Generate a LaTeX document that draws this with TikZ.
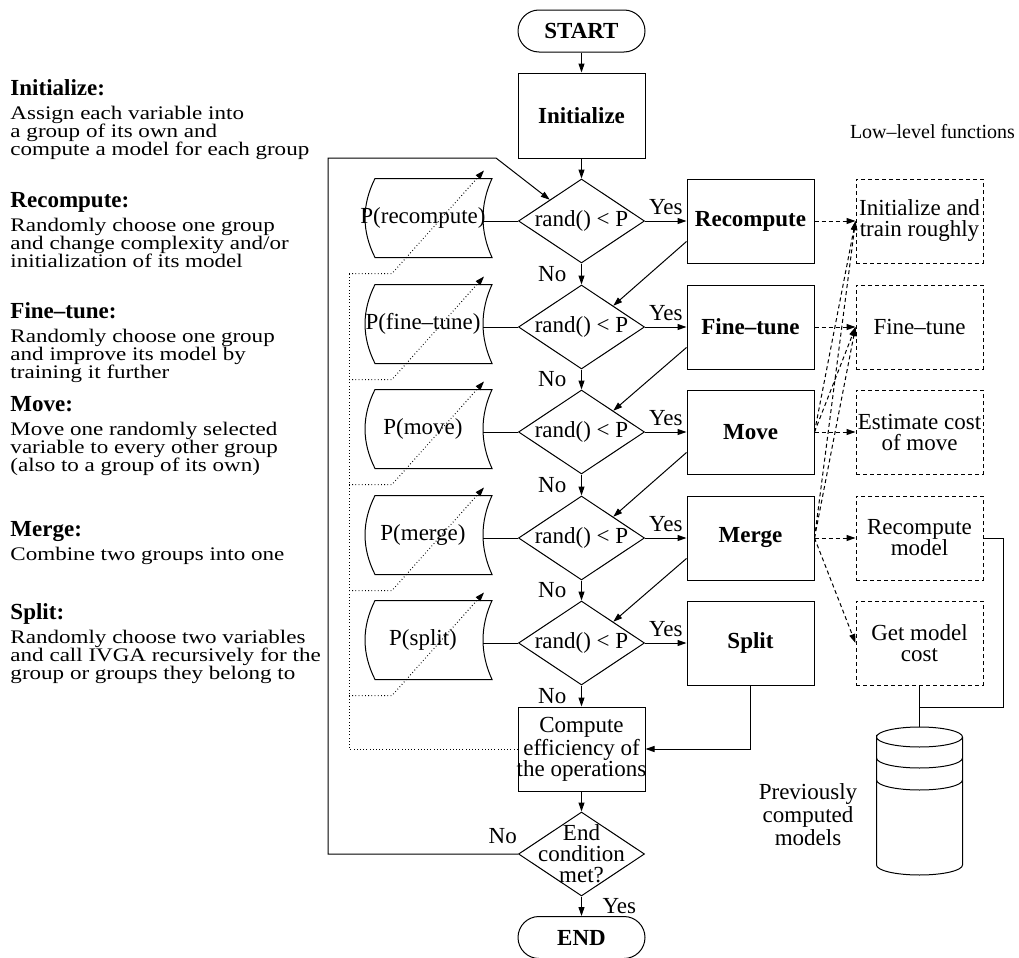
\documentclass[tikz,border=0pt]{standalone}
\usepackage{fontspec}
\setmainfont{Liberation Serif}
\newfontfamily\notefont[FakeStretch=1.2]{Liberation Serif}
\newcommand{\notehead}[1]{{\rmfamily\bfseries\fontsize{11.5pt}{9pt}\selectfont #1}}
\usetikzlibrary{shapes.geometric,shapes.misc,arrows.meta,positioning}

\begin{document}
\begin{tikzpicture}[
    x=0.5pt, y=-0.5pt,
    line width=0.5pt,
    >={Triangle[length=4.5pt,width=3pt]},
    every node/.style={font=\fontsize{11.5pt}{10.5pt}\selectfont},
    terminal/.style={rounded rectangle, draw, inner sep=0pt, minimum width=63.5pt, minimum height=21pt, font=\fontsize{11.5pt}{10.5pt}\selectfont\bfseries},
    box/.style={rectangle, draw, inner sep=0pt, minimum width=63.5pt, minimum height=42pt, align=center},
    op/.style={box, font=\fontsize{11.5pt}{10.5pt}\selectfont\bfseries},
    test/.style={diamond, draw, aspect=1.5, inner sep=0pt, minimum width=63pt, minimum height=42pt},
    lowlevel/.style={box, dash pattern=on 2pt off 1.5pt},
    prob/.style={inner sep=0pt},
    note/.style={anchor=north west, inner sep=0pt, align=left, font={\notefont\fontsize{9.6pt}{9pt}\selectfont\lineskiplimit-10pt\relax}},
    arrow/.style={->},
    call/.style={->, dash pattern=on 2pt off 1.5pt},
    feedline/.style={dash pattern=on 0.4pt off 1.2pt},
    feedback/.style={feedline, ->},
    yes/.style={above, inner sep=3pt},
    no/.style={left, xshift=-4pt}
]
\useasboundingbox (0,0) rectangle (1019,958);

% Descriptions on the left
\node[note] (n_init) at (10,79) {\notehead{Initialize:}\\[3pt]Assign each variable into\\a group of its own and\\compute a model for each group};
\node[note] (n_rec) at (10,192) {\notehead{Recompute:}\\[3pt]Randomly choose one group\\and change complexity and/or\\initialization of its model};
\node[note] (n_tune) at (10,302) {\notehead{Fine--tune:}\\[3pt]Randomly choose one group\\and improve its model by\\training it further};
\node[note] (n_move) at (10,396) {\notehead{Move:}\\[3pt]Move one randomly selected\\variable to every other group\\(also to a group of its own)};
\node[note] (n_merge) at (10,521) {\notehead{Merge:}\\[3pt]Combine two groups into one};
\node[note] (n_split) at (10,603) {\notehead{Split:}\\[3pt]Randomly choose two variables\\and call IVGA recursively for the\\group or groups they belong to};

% Main flow
\node[terminal] (start) at (581.5,31) {START};
\node[op, minimum height=42.5pt] (init) at (581.5,115.5) {Initialize};
\node[test] (d1) at (581.5,221) {rand() < P};
\node[test] (d2) at (581.5,327) {rand() < P};
\node[test] (d3) at (581.5,432) {rand() < P};
\node[test] (d4) at (581.5,538) {rand() < P};
\node[test] (d5) at (581.5,643) {rand() < P};
\node[box, label={[align=center]center:{Compute\\efficiency of\\the operations}}] (eff) at (581.5,749) {};
\node[test, label={[align=center]center:{End\\condition\\met?}}] (endc) at (581.5,854) {};
\node[terminal] (finish) at (581.5,937.5) {END};

% Operations
\node[op] (rec) at (750.5,221) {Recompute};
\node[op] (fine) at (750.5,327) {Fine--tune};
\node[op] (move) at (750.5,432) {Move};
\node[op] (merge) at (750.5,538) {Merge};
\node[op] (split) at (750.5,643) {Split};

% Probabilities
\node[prob] (p_rec) at (423,218) {P(recompute)};
\node[prob] (p_tune) at (423,324) {P(fine--tune)};
\node[prob] (p_move) at (423,429) {P(move)};
\node[prob] (p_merge) at (423,535) {P(merge)};
\node[prob] (p_split) at (423,640) {P(split)};
\draw[shift={(p_rec.center)}] (-48,-39.5) -- (69,-39.5) .. controls (57,-13) and (57,13) .. (69,39.5) -- (-48,39.5) .. controls (-61.3,13) and (-61.3,-13) .. (-48,-39.5) -- cycle;
\draw[shift={(p_tune.center)}] (-48,-39.5) -- (69,-39.5) .. controls (57,-13) and (57,13) .. (69,39.5) -- (-48,39.5) .. controls (-61.3,13) and (-61.3,-13) .. (-48,-39.5) -- cycle;
\draw[shift={(p_move.center)}] (-48,-39.5) -- (69,-39.5) .. controls (57,-13) and (57,13) .. (69,39.5) -- (-48,39.5) .. controls (-61.3,13) and (-61.3,-13) .. (-48,-39.5) -- cycle;
\draw[shift={(p_merge.center)}] (-48,-39.5) -- (69,-39.5) .. controls (57,-13) and (57,13) .. (69,39.5) -- (-48,39.5) .. controls (-61.3,13) and (-61.3,-13) .. (-48,-39.5) -- cycle;
\draw[shift={(p_split.center)}] (-48,-39.5) -- (69,-39.5) .. controls (57,-13) and (57,13) .. (69,39.5) -- (-48,39.5) .. controls (-61.3,13) and (-61.3,-13) .. (-48,-39.5) -- cycle;

% Low-level functions
\node[font=\fontsize{10pt}{10pt}\selectfont] (lltitle) at (932.5,132) {Low--level functions};
\node[lowlevel] (ll_init) at (919.5,221) {Initialize and\\train roughly};
\node[lowlevel] (ll_tune) at (919.5,327) {Fine--tune};
\node[lowlevel] (ll_est) at (919.5,432) {Estimate cost\\of move};
\node[lowlevel] (ll_recomp) at (919.5,538) {Recompute\\model};
\node[lowlevel] (ll_cost) at (919.5,643) {Get model\\cost};

% Model store
\coordinate (db) at (919.5,737);
\coordinate (dbjoin) at (919.5,707);
\draw ([xshift=-21.5pt]db) arc[start angle=180, end angle=0, x radius=21.5pt, y radius=5pt] arc[start angle=0, end angle=-180, x radius=21.5pt, y radius=5pt] -- ++(0,128) arc[start angle=180, end angle=360, x radius=21.5pt, y radius=5pt] -- ++(0,-128);
\draw ([xshift=-21.5pt,yshift=-10.5pt]db) arc[start angle=180, end angle=360, x radius=21.5pt, y radius=5pt];
\draw ([xshift=-21.5pt,yshift=-21.5pt]db) arc[start angle=180, end angle=360, x radius=21.5pt, y radius=5pt];
\node[align=center, font=\fontsize{11.5pt}{10pt}\selectfont] (dblabel) at (808,815) {Previously\\computed\\models};

% Arrows of the main flow
\draw[arrow] (start.south) -- (init.north);
\draw[arrow] (init.south) -- (d1.north);
\draw[arrow] (d1.east) -- node[yes] {Yes} (rec.west);
\draw[arrow] (d2.east) -- node[yes] {Yes} (fine.west);
\draw[arrow] (d3.east) -- node[yes] {Yes} (move.west);
\draw[arrow] (d4.east) -- node[yes] {Yes} (merge.west);
\draw[arrow] (d5.east) -- node[yes] {Yes} (split.west);
\draw[arrow] (d1.south) -- node[no] {No} (d2.north);
\draw[arrow] (d2.south) -- node[no] {No} (d3.north);
\draw[arrow] (d3.south) -- node[no] {No} (d4.north);
\draw[arrow] (d4.south) -- node[no] {No} (d5.north);
\draw[arrow] (d5.south) -- node[no] {No} (eff.north);
\draw[arrow] ([yshift=11pt]rec.south west) -- (d2.north east);
\draw[arrow] ([yshift=11pt]fine.south west) -- (d3.north east);
\draw[arrow] ([yshift=11pt]move.south west) -- (d4.north east);
\draw[arrow] ([yshift=11pt]merge.south west) -- (d5.north east);
\draw[arrow] (split.south) |- (eff.east);
\draw[arrow] (eff.south) -- (endc.north);
\draw[arrow] (endc.south) -- node[right, xshift=7pt] {Yes} (finish.north);

% Loop back
\coordinate (loopbend) at (496,158);
\draw[arrow] (endc.west) node[anchor=base east, xshift=3pt, yshift=5.5pt] {No} -- ++(-190,0) |- (loopbend) -- (d1.north west);

% Probabilities into the tests
\draw ([xshift=30pt,yshift=-1.5pt]p_rec.center) -- (d1.west);
\draw ([xshift=30pt,yshift=-1.5pt]p_tune.center) -- (d2.west);
\draw ([xshift=30pt,yshift=-1.5pt]p_move.center) -- (d3.west);
\draw ([xshift=30pt,yshift=-1.5pt]p_merge.center) -- (d4.west);
\draw ([xshift=30pt,yshift=-1.5pt]p_split.center) -- (d5.west);

% Efficiency feedback
\draw[feedline] (eff.west) -| ([xshift=-37pt,yshift=-27.75pt]p_rec.center);
\draw[feedback] ([xshift=-37pt,yshift=-27.75pt]p_rec.center) -- ++(43,0) -- ++(92,-103);
\draw[feedback] ([xshift=-37pt,yshift=-27.75pt]p_tune.center) -- ++(43,0) -- ++(92,-103);
\draw[feedback] ([xshift=-37pt,yshift=-27.75pt]p_move.center) -- ++(43,0) -- ++(92,-103);
\draw[feedback] ([xshift=-37pt,yshift=-27.75pt]p_merge.center) -- ++(43,0) -- ++(92,-103);
\draw[feedback] ([xshift=-37pt,yshift=-27.75pt]p_split.center) -- ++(43,0) -- ++(92,-103);

% Calls to the low-level functions
\draw[call] (rec.east) -- (ll_init.west);
\draw[call] (fine.east) -- (ll_tune.west);
\draw[call] (move.east) -- (ll_est.west);
\draw[call] (move.east) -- (ll_init.west);
\draw[call] (move.east) -- (ll_tune.west);
\draw[call] (merge.east) -- (ll_recomp.west);
\draw[call] (merge.east) -- (ll_init.west);
\draw[call] (merge.east) -- (ll_tune.west);
\draw[call] (merge.east) -- (ll_cost.west);

% Model store links
\draw (ll_recomp.east) -- ++(20,0) |- (dbjoin);
\draw (ll_cost.south) -- ([yshift=5pt]db);

\end{tikzpicture}
\end{document}
